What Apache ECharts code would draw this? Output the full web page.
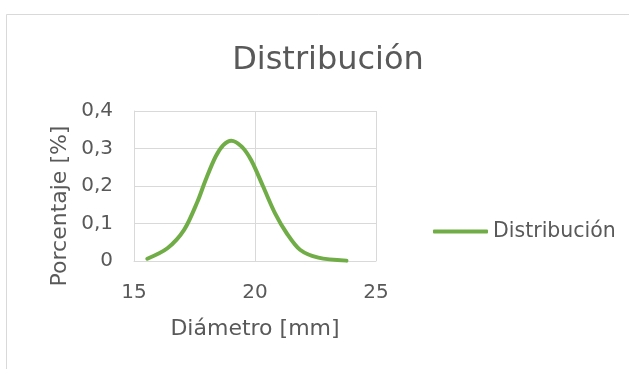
<!DOCTYPE html>
<html>
<head>
<meta charset="utf-8">
<script src="https://cdn.jsdelivr.net/npm/echarts@6/dist/echarts.min.js"></script>
<style>
html,body{margin:0;padding:0;background:#fff;}
#chart{width:629px;height:369px;}
</style>
</head>
<body>
<div id="chart"></div>
<script>
const diameters = [15.55, 16.38, 17.07, 17.62, 17.96, 18.37, 18.69, 19.02, 19.45, 19.85, 20.34, 20.83, 21.31, 21.86, 22.62, 23.78];
const percents  = [0.006, 0.034, 0.083, 0.158, 0.216, 0.278, 0.309, 0.321, 0.305, 0.268, 0.198, 0.127, 0.074, 0.030, 0.009, 0.001];
const xTicks = [15, 20, 25];
const yTicks = [0, 0.1, 0.2, 0.3, 0.4];
const seriesName = 'Distribución';
const titleText = 'Distribución';
const xName = 'Diámetro [mm]';
const yName = 'Porcentaje [%]';

const font = 'DejaVu Sans';
const txt = '#595959';
const gridC = '#d9d9d9';

const chart = echarts.init(document.getElementById('chart'), null, {renderer: 'canvas'});
chart.setOption({
  animation: false,
  graphic: [{
    type: 'rect', silent: true, z: -10,
    shape: {x: 6.5, y: 14.5, width: 700, height: 500},
    style: {fill: '#fff', stroke: gridC, lineWidth: 1}
  }],
  title: {
    text: titleText, left: 323, textAlign: 'center', top: 40,
    textStyle: {fontFamily: font, fontSize: 32, fontWeight: 'normal', color: txt}
  },
  legend: {
    left: 428, top: 216, itemWidth: 55, itemHeight: 4, icon: 'roundRect',
    data: [{name: seriesName}],
    textStyle: {fontFamily: font, fontSize: 20.5, color: txt}
  },
  grid: {left: 134, right: 253, top: 111, bottom: 108},
  xAxis: {
    type: 'value', min: xTicks[0], max: xTicks[xTicks.length-1], interval: 5,
    name: xName, nameLocation: 'middle', nameGap: 57,
    nameTextStyle: {fontFamily: font, fontSize: 22, color: txt},
    axisLine: {show: true, lineStyle: {color: gridC, width: 1}},
    axisTick: {show: false},
    axisLabel: {fontFamily: font, fontSize: 20, color: txt, margin: 22},
    splitLine: {show: true, lineStyle: {color: gridC, width: 1}}
  },
  yAxis: {
    type: 'value', min: yTicks[0], max: yTicks[yTicks.length-1], interval: 0.1,
    name: yName, nameLocation: 'middle', nameGap: 63,
    nameTextStyle: {fontFamily: font, fontSize: 22, color: txt, padding: [0, 40, 0, 0]},
    axisLine: {show: true, lineStyle: {color: gridC, width: 1}},
    axisTick: {show: false},
    axisLabel: {fontFamily: font, fontSize: 20, color: txt, margin: 21,
      formatter: v => (v === 0 ? '0' : v.toFixed(1).replace('.', ','))},
    splitLine: {show: true, lineStyle: {color: gridC, width: 1}}
  },
  series: [{
    name: seriesName, type: 'line', smooth: 0.3, showSymbol: false,
    data: diameters.map((d, i) => [d, percents[i]]),
    lineStyle: {color: '#70ad47', width: 4, cap: 'round', join: 'round'},
    itemStyle: {color: '#70ad47'}
  }]
});
</script>
</body>
</html>
